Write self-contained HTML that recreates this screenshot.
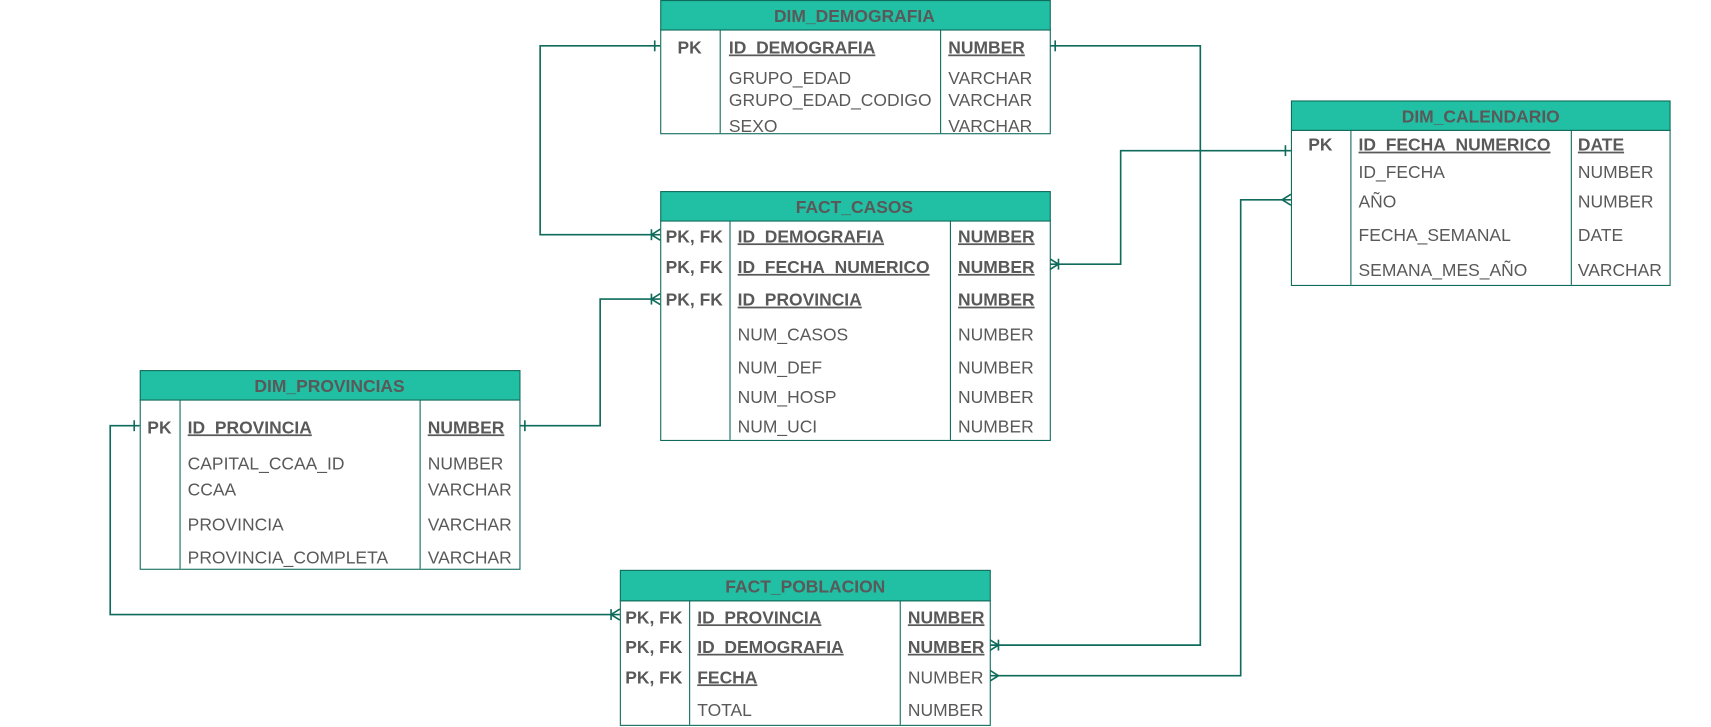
<!DOCTYPE html>
<html><head><meta charset="utf-8"><style>
html,body{margin:0;padding:0;background:#fff;}
svg{display:block;}
text{font-family:"Liberation Sans",Arial,sans-serif;font-size:16px;fill:#595959;}
.b{font-weight:bold;}
.h{font-weight:bold;text-anchor:middle;}
.c{text-anchor:middle;}
</style></head><body>
<svg width="1711" height="727" viewBox="0 0 1568 666" preserveAspectRatio="none" xmlns="http://www.w3.org/2000/svg">
<g fill="none" stroke="#0f6b5b" stroke-width="1.5">
<polyline points="605,42 495,42 495,215 605,215"/>
<polyline points="962,42 1100,42 1100,591 907,591"/>
<polyline points="1183,138 1027,138 1027,242 962,242"/>
<polyline points="1183,183 1137,183 1137,619 907,619"/>
<polyline points="476,390 550,390 550,274 605,274"/>
<polyline points="128,390 101,390 101,563 568,563"/>
<line x1="600" y1="37" x2="600" y2="47"/>
<line x1="967" y1="37" x2="967" y2="47"/>
<line x1="1178" y1="133" x2="1178" y2="143"/>
<line x1="481" y1="385" x2="481" y2="395"/>
<line x1="123" y1="385" x2="123" y2="395"/>
<polyline points="605,210 597,215 605,220"/><line x1="597" y1="210" x2="597" y2="220"/>
<polyline points="605,269 597,274 605,279"/><line x1="597" y1="269" x2="597" y2="279"/>
<polyline points="568,558 560,563 568,568"/><line x1="560" y1="558" x2="560" y2="568"/>
<polyline points="962,237 970,242 962,247"/><line x1="970" y1="237" x2="970" y2="247"/>
<polyline points="907,586 915,591 907,596"/><line x1="915" y1="586" x2="915" y2="596"/>
<polyline points="907,614 915,619 907,624"/>
<polyline points="1183,178 1175,183 1183,188"/>
</g>

<rect x="605.5" y="0.5" width="357" height="27" fill="#21bfa3" stroke="#0f6b5b"/>
<rect x="605.5" y="27.5" width="357" height="95" fill="#fff" stroke="#0f6b5b"/>
<line x1="660" y1="27" x2="660" y2="122" stroke="#0f6b5b"/><line x1="862" y1="27" x2="862" y2="122" stroke="#0f6b5b"/>
<text class="h" x="783" y="20">DIM_DEMOGRAFIA</text>
<text class="b c" x="632" y="49">PK</text>
<text class="b" x="668" y="49" text-decoration="underline">ID_DEMOGRAFIA</text>
<text class="b" x="869" y="49" text-decoration="underline">NUMBER</text>
<text x="668" y="77">GRUPO_EDAD</text><text x="869" y="77">VARCHAR</text>
<text x="668" y="97">GRUPO_EDAD_CODIGO</text><text x="869" y="97">VARCHAR</text>
<text x="668" y="121">SEXO</text><text x="869" y="121">VARCHAR</text>

<rect x="605.5" y="175.5" width="357" height="27" fill="#21bfa3" stroke="#0f6b5b"/>
<rect x="605.5" y="202.5" width="357" height="201" fill="#fff" stroke="#0f6b5b"/>
<line x1="669" y1="202" x2="669" y2="403" stroke="#0f6b5b"/><line x1="871" y1="202" x2="871" y2="403" stroke="#0f6b5b"/>
<text class="h" x="783" y="195">FACT_CASOS</text>
<text class="b" x="610" y="222">PK, FK</text><text class="b" x="676" y="222" text-decoration="underline">ID_DEMOGRAFIA</text><text class="b" x="878" y="222" text-decoration="underline">NUMBER</text>
<text class="b" x="610" y="250">PK, FK</text><text class="b" x="676" y="250" text-decoration="underline">ID_FECHA_NUMERICO</text><text class="b" x="878" y="250" text-decoration="underline">NUMBER</text>
<text class="b" x="610" y="280">PK, FK</text><text class="b" x="676" y="280" text-decoration="underline">ID_PROVINCIA</text><text class="b" x="878" y="280" text-decoration="underline">NUMBER</text>
<text x="676" y="312">NUM_CASOS</text><text x="878" y="312">NUMBER</text>
<text x="676" y="342">NUM_DEF</text><text x="878" y="342">NUMBER</text>
<text x="676" y="369">NUM_HOSP</text><text x="878" y="369">NUMBER</text>
<text x="676" y="396">NUM_UCI</text><text x="878" y="396">NUMBER</text>

<rect x="1183.5" y="92.5" width="347" height="27" fill="#21bfa3" stroke="#0f6b5b"/>
<rect x="1183.5" y="119.5" width="347" height="142" fill="#fff" stroke="#0f6b5b"/>
<line x1="1238" y1="119" x2="1238" y2="261" stroke="#0f6b5b"/><line x1="1440" y1="119" x2="1440" y2="261" stroke="#0f6b5b"/>
<text class="h" x="1357" y="112">DIM_CALENDARIO</text>
<text class="b c" x="1210" y="138">PK</text>
<text class="b" x="1245" y="138" text-decoration="underline">ID_FECHA_NUMERICO</text><text class="b" x="1446" y="138" text-decoration="underline">DATE</text>
<text x="1245" y="163">ID_FECHA</text><text x="1446" y="163">NUMBER</text>
<text x="1245" y="190">AÑO</text><text x="1446" y="190">NUMBER</text>
<text x="1245" y="221">FECHA_SEMANAL</text><text x="1446" y="221">DATE</text>
<text x="1245" y="253">SEMANA_MES_AÑO</text><text x="1446" y="253">VARCHAR</text>

<rect x="128.5" y="339.5" width="348" height="27" fill="#21bfa3" stroke="#0f6b5b"/>
<rect x="128.5" y="366.5" width="348" height="155" fill="#fff" stroke="#0f6b5b"/>
<line x1="165" y1="366" x2="165" y2="521" stroke="#0f6b5b"/><line x1="385" y1="366" x2="385" y2="521" stroke="#0f6b5b"/>
<text class="h" x="302" y="359">DIM_PROVINCIAS</text>
<text class="b" x="135" y="397">PK</text>
<text class="b" x="172" y="397" text-decoration="underline">ID_PROVINCIA</text><text class="b" x="392" y="397" text-decoration="underline">NUMBER</text>
<text x="172" y="430">CAPITAL_CCAA_ID</text><text x="392" y="430">NUMBER</text>
<text x="172" y="454">CCAA</text><text x="392" y="454">VARCHAR</text>
<text x="172" y="486">PROVINCIA</text><text x="392" y="486">VARCHAR</text>
<text x="172" y="516">PROVINCIA_COMPLETA</text><text x="392" y="516">VARCHAR</text>

<rect x="568.5" y="522.5" width="339" height="28" fill="#21bfa3" stroke="#0f6b5b"/>
<rect x="568.5" y="550.5" width="339" height="114" fill="#fff" stroke="#0f6b5b"/>
<line x1="632" y1="550" x2="632" y2="664" stroke="#0f6b5b"/><line x1="825" y1="550" x2="825" y2="664" stroke="#0f6b5b"/>
<text class="h" x="738" y="543">FACT_POBLACION</text>
<text class="b" x="573" y="571">PK, FK</text><text class="b" x="639" y="571" text-decoration="underline">ID_PROVINCIA</text><text class="b" x="832" y="571" text-decoration="underline">NUMBER</text>
<text class="b" x="573" y="598">PK, FK</text><text class="b" x="639" y="598" text-decoration="underline">ID_DEMOGRAFIA</text><text class="b" x="832" y="598" text-decoration="underline">NUMBER</text>
<text class="b" x="573" y="626">PK, FK</text><text class="b" x="639" y="626" text-decoration="underline">FECHA</text><text x="832" y="626">NUMBER</text>
<text x="639" y="656">TOTAL</text><text x="832" y="656">NUMBER</text>
</svg>
</body></html>
